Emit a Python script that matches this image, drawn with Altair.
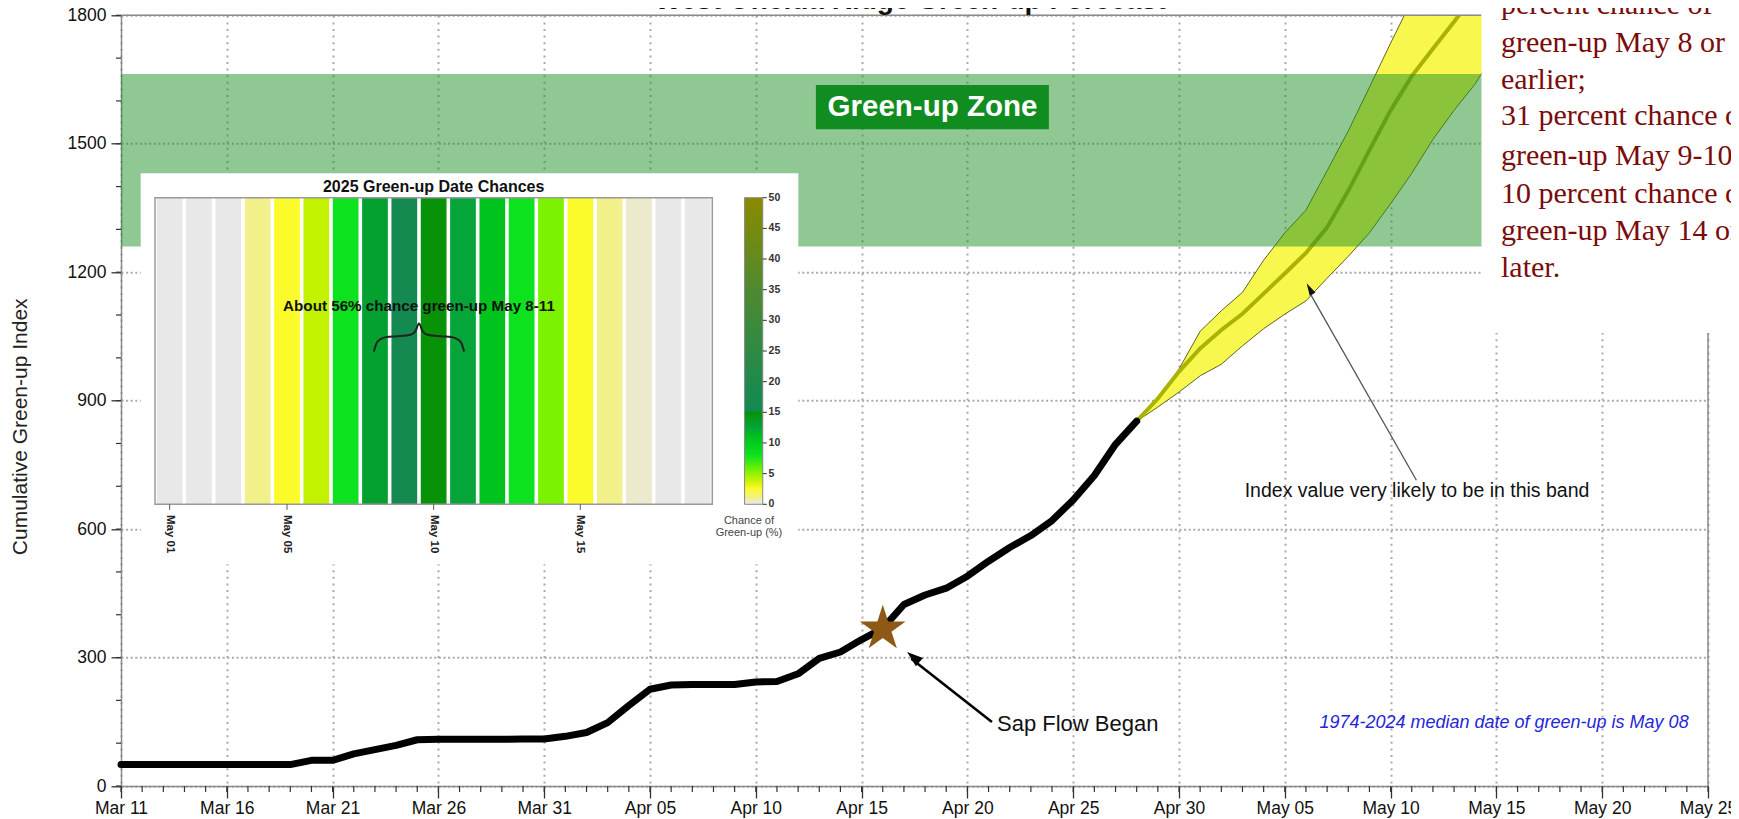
import altair as alt
import pandas as pd

# ---------------- data ----------------
START = pd.Timestamp("2025-03-11")

obs_dates = pd.date_range("2025-03-11", "2025-04-28").strftime("%Y-%m-%d").tolist()
obs_values = [50, 50, 50, 50, 50, 50, 50, 50, 50, 60, 60,
              75, 85, 95, 108,
              109, 109, 109, 109, 110, 110,
              116, 125, 148, 188, 226,
              236, 237, 237, 237, 243,
              244, 262, 298, 313, 342,
              368, 424, 446, 462, 490,
              525, 557, 585, 620, 668,
              725, 798, 852]

fc_dates = pd.date_range("2025-04-28", "2025-05-15").strftime("%Y-%m-%d").tolist()
fc_median = [852, 905, 968, 1022, 1065, 1103, 1150, 1197, 1245, 1305, 1390, 1485, 1578, 1658, 1722, 1785, 1850, 1915]
fc_upper = [852, 902, 974, 1062, 1110, 1153, 1228, 1292, 1345, 1437, 1530, 1632, 1735, 1835, 1935, 2035, 2135, 2235]
fc_lower = [852, 885, 920, 958, 985, 1028, 1068, 1102, 1133, 1186, 1237, 1292, 1360, 1431, 1510, 1578, 1640, 1720]

zone_low, zone_high = 1260, 1663
sap_date, sap_value = "2025-04-16", 367

inset_days = list(range(1, 20))  # May 01 .. May 19
inset_chance = [0, 0, 0, 1, 2.5, 4, 8, 13, 16, 15, 12.5, 11, 8, 5.5, 2.5, 1, 0.5, 0, 0]
inset_tick_days = [1, 5, 10, 15]
colorbar_ticks = [0, 5, 10, 15, 20, 25, 30, 35, 40, 45, 50]

CH_DOMAIN = [0, 0.5, 1, 2.5, 4, 5.5, 8, 11, 12.5, 15, 15.25, 25, 35, 50]
CH_RANGE = ["#e8e8e8", "#ebeacc", "#f1f08b", "#fbfb2c", "#c2f200", "#7af200", "#0ce21e",
            "#00c31e", "#05a53a", "#079208", "#128a52", "#2f8a45", "#4f8a30", "#8b8b00"]

right_lines = ["percent chance of", "green-up May 8 or", "earlier;", "31 percent chance of",
               "green-up May 9-10;", "10 percent chance of", "green-up May 14 or", "later."]

# ---------------- helpers ----------------
def dnum(dates):
    return [(pd.Timestamp(d) - START).days for d in dates]

W, H = 1587, 770.7
TOP = 15.3
FONT = "Liberation Sans"

xscale = alt.Scale(domain=[0, 75], nice=False, zero=False)
yscale = alt.Scale(domain=[0, 1800], nice=False, zero=True)

xaxis = alt.Axis(values=list(range(0, 76, 5)),
                 labelExpr="timeFormat(datetime(2025, 2, 11 + datum.value), '%b %d')",
                 title=None, grid=True, gridColor="#a9a9a9", gridDash=[2, 4.6], gridWidth=2,
                 domainColor="#8a8a8a", domainWidth=1.5, tickColor="#333", tickSize=12,
                 tickWidth=1.3, labelFontSize=17.5, labelFont=FONT, labelColor="#111",
                 labelPadding=1, labelFlush=False, labelOverlap=False)
yaxis = alt.Axis(values=list(range(0, 1801, 300)), format="d", title="Cumulative Green-up Index",
                 titleFont=FONT, titleFontSize=21, titleFontWeight="normal", titleColor="#222",
                 titleX=-101, titleY=411, titleBaseline="middle",
                 grid=True, gridColor="#a9a9a9", gridDash=[2, 2.6], gridWidth=2,
                 domainColor="#8a8a8a", domainWidth=1.5, tickColor="#333", tickSize=10,
                 tickWidth=1.3, labelFontSize=17.5, labelFont=FONT, labelColor="#111",
                 labelPadding=5, labelFlush=False, labelOverlap=False)


def X(field):
    return alt.X(f"{field}:Q", scale=xscale, axis=xaxis)


def Y(field):
    return alt.Y(f"{field}:Q", scale=yscale, axis=yaxis)


obs = pd.DataFrame({"day": dnum(obs_dates), "val": obs_values})
fc = pd.DataFrame({"day": dnum(fc_dates), "med": fc_median, "up": fc_upper, "lo": fc_lower})
zone = pd.DataFrame({"d0": [0], "d1": [75], "v0": [zone_low], "v1": [zone_high]})
one = alt.Data(values=[{}])

STAR = ("M0,-1 L0.2245,-0.309 L0.951,-0.309 L0.363,0.118 L0.588,0.809 L0,0.382 "
        "L-0.588,0.809 L-0.363,0.118 L-0.951,-0.309 L-0.2245,-0.309 Z")


def ann_point(day, val):
    return pd.DataFrame({"day": [day], "val": [val]})


# ---------------- main layers ----------------
band = alt.Chart(fc).mark_area(clip=True, color="#f7f74e", stroke="#5f6422",
                               strokeWidth=1, opacity=1).encode(x=X("day"), y=Y("up"), y2="lo:Q")
median = alt.Chart(fc).mark_line(clip=True, color="#a9b300", strokeWidth=4).encode(
    x=X("day"), y=Y("med"))
green = alt.Chart(zone).mark_rect(color="#1f9127", opacity=0.5).encode(
    x=X("d0"), x2="d1:Q", y=Y("v0"), y2="v1:Q")
zbox = alt.Chart(pd.DataFrame({"d0": [32.84], "d1": [43.85], "v0": [1534], "v1": [1637]})).mark_rect(
    color="#118c21").encode(x=X("d0"), x2="d1:Q", y=Y("v0"), y2="v1:Q")
ztext = alt.Chart(ann_point(38.35, 1586)).mark_text(
    text="Green-up Zone", font=FONT, fontSize=29.5, fontWeight="bold", color="white",
    baseline="middle", align="center").encode(x=X("day"), y=Y("val"))

minor_x = alt.Chart(pd.DataFrame({"day": list(range(0, 76))})).mark_rule(
    color="#333", strokeWidth=1.2).encode(x=X("day"), y=alt.value(H), y2=alt.value(H + 6))
minor_y = alt.Chart(pd.DataFrame({"val": list(range(0, 1801, 100))})).mark_rule(
    color="#333", strokeWidth=1.2).encode(y=Y("val"), x=alt.value(-5), x2=alt.value(0))

line = alt.Chart(obs).mark_line(color="black", strokeWidth=7, strokeJoin="round",
                                strokeCap="round").encode(x=X("day"), y=Y("val"))
star = alt.Chart(ann_point(dnum([sap_date])[0], sap_value)).mark_point(
    shape=STAR, size=2304, filled=True, color="#8e5915", opacity=1, strokeWidth=0).encode(
    x=X("day"), y=Y("val"))

sap_arrow = alt.Chart(pd.DataFrame({"day": [41.16], "val": [149.5], "d2": [37.35], "v2": [297]})).mark_rule(
    color="black", strokeWidth=2.6).encode(x=X("day"), y=Y("val"), x2="d2:Q", y2="v2:Q")
sap_head = alt.Chart(ann_point(37.15, 313)).mark_point(
    shape="M0,0 L-0.65,1.9 L0.65,1.9 Z", size=282, angle=309.5, filled=True,
    color="black", opacity=1, strokeWidth=0).encode(x=X("day"), y=Y("val"))
sap_text = alt.Chart(ann_point(41.4, 145)).mark_text(
    text="Sap Flow Began", font=FONT, fontSize=22, color="#111", align="left",
    baseline="middle").encode(x=X("day"), y=Y("val"))

idx_arrow = alt.Chart(pd.DataFrame({"day": [61.22], "val": [714], "d2": [56.2], "v2": [1150]})).mark_rule(
    color="#555", strokeWidth=1.3).encode(x=X("day"), y=Y("val"), x2="d2:Q", y2="v2:Q")
idx_head = alt.Chart(ann_point(56.03, 1174)).mark_point(
    shape="M0,0 L-0.5,1.9 L0.5,1.9 Z", size=170, angle=330.8, filled=True,
    color="#111", opacity=1, strokeWidth=0).encode(x=X("day"), y=Y("val"))
idx_text = alt.Chart(ann_point(61.25, 689)).mark_text(
    text="Index value very likely to be in this band", font=FONT, fontSize=19.5,
    color="#111", align="center", baseline="middle").encode(x=X("day"), y=Y("val"))

med_text = alt.Chart(ann_point(65.36, 146)).mark_text(
    text="1974-2024 median date of green-up is May 08", font=FONT, fontSize=18,
    fontStyle="italic", color="#2626d9", align="center", baseline="middle").encode(
    x=X("day"), y=Y("val"))

frame_top = alt.Chart(one).mark_rule(color="#8a8a8a", strokeWidth=1.5).encode(
    x=alt.value(0), x2=alt.value(1360.5), y=alt.value(0))
frame_right = alt.Chart(one).mark_rule(color="#8a8a8a", strokeWidth=1.5).encode(
    x=alt.value(W), y=alt.value(317.7), y2=alt.value(H))

title = alt.Chart(one).mark_text(
    text="West Oneida Ridge Green-up Forecast", font=FONT, fontSize=28, fontWeight="bold",
    color="#111", align="center", baseline="alphabetic").encode(x=alt.value(789.5), y=alt.value(-6.8))

rbox = alt.Chart(one).mark_rect(color="white").encode(
    x=alt.value(1360.5), x2=alt.value(1650), y=alt.value(-30), y2=alt.value(317.7))
line_page_y = [13.5, 52, 89, 124.5, 165, 203, 239.5, 277]
rtexts = [alt.Chart(one).mark_text(text=t, font="Liberation Serif", fontSize=30, color="#7a0c0c",
                                   align="left", baseline="alphabetic").encode(
    x=alt.value(1380), y=alt.value(yy - TOP)) for t, yy in zip(right_lines, line_page_y)]

main = alt.layer(band, median, green, zbox, ztext, minor_x, minor_y, line, star,
                 sap_arrow, sap_head, sap_text, idx_arrow, idx_head, idx_text, med_text,
                 frame_top, frame_right, title, rbox, *rtexts)

# ---------------- inset ----------------
ixs = alt.Scale(domain=[0.5, 19.5], range=[34, 591.3], nice=False, zero=False)
iys = alt.Scale(domain=[0, 1], range=[489, 182.4], nice=False, zero=False)
cscale = alt.Scale(domain=CH_DOMAIN, range=CH_RANGE, interpolate="rgb", clamp=True)


def IX(field):
    return alt.X(f"{field}:Q", scale=ixs, axis=None)


def IY(field):
    return alt.Y(f"{field}:Q", scale=iys, axis=None)


cells = pd.DataFrame({"d": inset_days, "chance": inset_chance})
cells["x0"] = cells["d"] - 0.5
cells["x1"] = cells["d"] + 0.5
cells["y0"] = 0
cells["y1"] = 1

cb_steps = [i * 0.25 for i in range(200)]
cbar = pd.DataFrame({"v": cb_steps})
cbar["chance"] = cbar["v"] + 0.125
cbar["y0"] = cbar["v"] / 50
cbar["y1"] = ((cbar["v"] + 0.4) / 50).clip(upper=1)
cbar["x0"] = 20.60
cbar["x1"] = 21.22

bg = alt.Chart(one).mark_rect(color="white").encode(
    x=alt.value(19.7), x2=alt.value(677.3), y=alt.value(158), y2=alt.value(549))
heat = alt.Chart(cells).mark_rect(xOffset=1.8, x2Offset=-1.8).encode(
    x=IX("x0"), x2="x1:Q", y=IY("y0"), y2="y1:Q",
    color=alt.Color("chance:Q", scale=cscale, legend=None))
panel = alt.Chart(pd.DataFrame({"x0": [0.5], "x1": [19.5], "y0": [0], "y1": [1]})).mark_rect(
    fill=None, stroke="#9a9a9a", strokeWidth=1.5).encode(x=IX("x0"), x2="x1:Q", y=IY("y0"), y2="y1:Q")
cbar_rects = alt.Chart(cbar).mark_rect().encode(
    x=IX("x0"), x2="x1:Q", y=IY("y0"), y2="y1:Q",
    color=alt.Color("chance:Q", scale=cscale, legend=None))
cbar_frame = alt.Chart(pd.DataFrame({"x0": [20.60], "x1": [21.22], "y0": [0], "y1": [1]})).mark_rect(
    fill=None, stroke="#8a8a8a", strokeWidth=1).encode(x=IX("x0"), x2="x1:Q", y=IY("y0"), y2="y1:Q")
cb_tick_df = pd.DataFrame({"t": colorbar_ticks})
cb_tick_df["y"] = cb_tick_df["t"] / 50
cb_tick_df["x0"] = 21.22
cb_tick_df["x1"] = 21.36
cb_tick_df["xl"] = 21.42
cb_tick_df["lab"] = cb_tick_df["t"].astype(str)
cb_ticks = alt.Chart(cb_tick_df).mark_rule(color="#333", strokeWidth=1).encode(
    x=IX("x0"), x2="x1:Q", y=IY("y"))
cb_labels = alt.Chart(cb_tick_df).mark_text(font=FONT, fontSize=10.5, fontWeight="bold",
                                            color="#333", align="left", baseline="middle").encode(
    x=IX("xl"), y=IY("y"), text="lab:N")
cb_caption = alt.Chart(pd.DataFrame({"x": [20.75, 20.75], "y": [-0.0535, -0.0946],
                                     "t": ["Chance of", "Green-up (%)"]})).mark_text(
    font=FONT, fontSize=11, color="#444", align="center", baseline="middle").encode(
    x=IX("x"), y=IY("y"), text="t:N")

date_df = pd.DataFrame({"d": inset_tick_days})
date_df["lab"] = ["May %02d" % d for d in inset_tick_days]
date_df["y0"] = 0
date_df["y1"] = -0.018
date_df["yl"] = -0.035
date_ticks = alt.Chart(date_df).mark_rule(color="#555", strokeWidth=1).encode(
    x=IX("d"), y=IY("y0"), y2="y1:Q")
date_labels = alt.Chart(date_df).mark_text(font=FONT, fontSize=11.5, fontWeight="bold",
                                           color="#222", angle=90, align="left",
                                           baseline="middle").encode(
    x=IX("d"), y=IY("yl"), text="lab:N")

ititle = alt.Chart(pd.DataFrame({"x": [10.0], "y": [1.036]})).mark_text(
    text="2025 Green-up Date Chances", font=FONT, fontSize=16, fontWeight="bold",
    color="#111", align="center", baseline="middle").encode(x=IX("x"), y=IY("y"))
inote = alt.Chart(pd.DataFrame({"x": [9.5], "y": [0.647]})).mark_text(
    text="About 56% chance green-up May 8-11", font=FONT, fontSize=15.2, fontWeight="bold",
    color="#111", align="center", baseline="middle").encode(x=IX("x"), y=IY("y"))

brace_x = [7.96, 8.05, 8.18, 8.4, 8.77, 9.21, 9.38, 9.5, 9.62, 9.79, 10.23, 10.6, 10.82, 10.95, 11.04]
brace_y = [0.498, 0.525, 0.538, 0.546, 0.548, 0.553, 0.565, 0.59, 0.565, 0.553, 0.548, 0.546, 0.538, 0.525, 0.498]
brace = alt.Chart(pd.DataFrame({"x": brace_x, "y": brace_y})).mark_line(
    color="#222", strokeWidth=2, interpolate="monotone").encode(x=IX("x"), y=IY("y"))

inset = alt.layer(bg, heat, panel, cbar_rects, cbar_frame, cb_ticks, cb_labels, cb_caption,
                  date_ticks, date_labels, ititle, inote, brace)

chart = alt.layer(main, inset).resolve_scale(
    x="independent", y="independent", color="independent"
).properties(
    width=W, height=H, autosize="none",
    padding={"left": 113, "top": 7.3, "right": 23, "bottom": 33}
).configure_view(stroke=None)

chart.save("out.html", embed_options={"renderer": "svg", "actions": False})
